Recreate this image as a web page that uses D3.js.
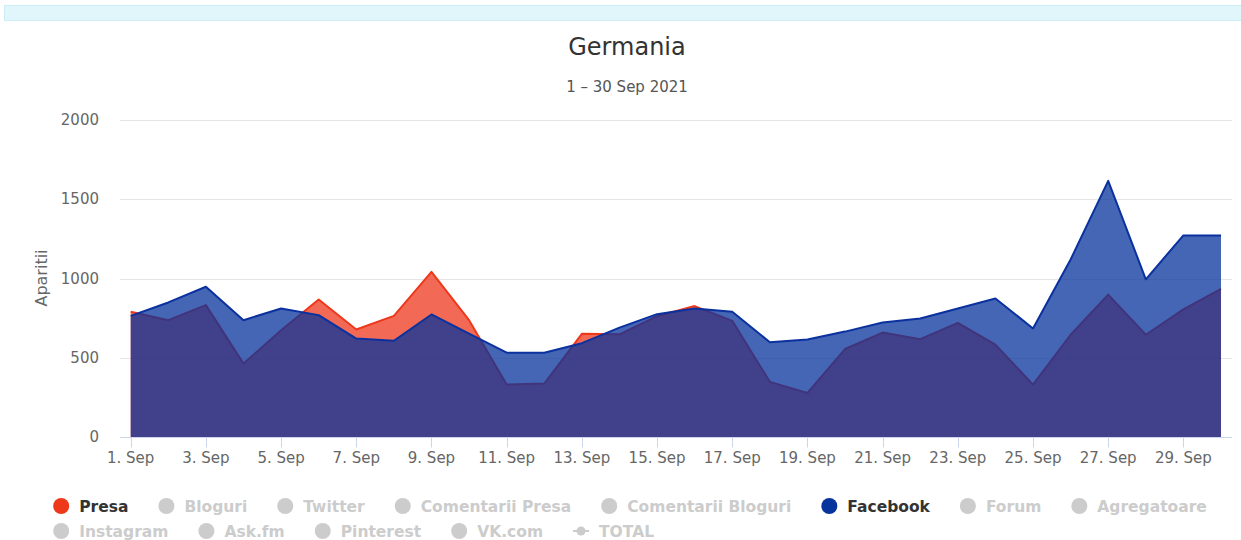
<!DOCTYPE html>
<html>
<head>
<meta charset="utf-8">
<script src="https://cdn.jsdelivr.net/npm/d3@7/dist/d3.min.js"></script>
<style>
  html, body { margin: 0; padding: 0; background: #fff; }
  svg { display: block; }
  text { font-family: "DejaVu Sans", Verdana, sans-serif; }
</style>
</head>
<body>
<svg id="chart" width="1241" height="540"></svg>
<script>
// ---- data ----
const titleText = "Germania";
const subtitleText = "1 \u2013 30 Sep 2021";
const yAxisTitle = "Aparitii";
const days = d3.range(1, 31);
const presa = [790, 737, 832, 463, 674, 868, 678, 764, 1042, 737,
               331, 337, 651, 648, 762, 826, 733, 348, 278, 555,
               659, 617, 720, 583, 330, 645, 898, 645, 805, 935];
const facebook = [764, 849, 948, 737, 811, 769, 621, 607, 773, 652,
                  532, 532, 592, 690, 775, 811, 790, 598, 615, 665,
                  723, 748, 811, 874, 685, 1120, 1616, 995, 1272, 1272];
const yTicks = [0, 500, 1000, 1500, 2000];
const xTickDays = d3.range(1, 31, 2);
const legendItems = [
  { name: "Presa", active: true, color: "#ee381c", symbol: "circle" },
  { name: "Bloguri", active: false, symbol: "circle" },
  { name: "Twitter", active: false, symbol: "circle" },
  { name: "Comentarii Presa", active: false, symbol: "circle" },
  { name: "Comentarii Bloguri", active: false, symbol: "circle" },
  { name: "Facebook", active: true, color: "#06339c", symbol: "circle" },
  { name: "Forum", active: false, symbol: "circle" },
  { name: "Agregatoare", active: false, symbol: "circle" },
  { name: "Instagram", active: false, symbol: "circle" },
  { name: "Ask.fm", active: false, symbol: "circle" },
  { name: "Pinterest", active: false, symbol: "circle" },
  { name: "VK.com", active: false, symbol: "circle" },
  { name: "TOTAL", active: false, symbol: "line" }
];

// ---- layout ----
const svg = d3.select("#chart");
const W = 1241;
const plot = { left: 120, right: 1232, top: 120, bottom: 437 };
const centerX = 627;

// header band
svg.append("rect").attr("x", 4.5).attr("y", 5.5).attr("width", W - 4).attr("height", 15)
  .attr("fill", "#e0f6fb").attr("stroke", "#cdeef7").attr("stroke-width", 1);

// title
svg.append("text").attr("x", centerX).attr("y", 55).attr("text-anchor", "middle")
  .attr("font-size", 24).attr("fill", "#333").text(titleText);
svg.append("text").attr("x", centerX).attr("y", 92).attr("text-anchor", "middle")
  .attr("font-size", 15).attr("fill", "#555").text(subtitleText);

// scales
const x = d3.scaleLinear().domain([1, 30]).range([130.7, 1221]);
const y = d3.scaleLinear().domain([0, 2000]).range([plot.bottom, plot.top]);

// gridlines
svg.append("g").selectAll("line").data(yTicks.filter(d => d > 0)).join("line")
  .attr("x1", plot.left).attr("x2", plot.right)
  .attr("y1", d => Math.round(y(d)) + 0.5).attr("y2", d => Math.round(y(d)) + 0.5)
  .attr("stroke", "#e6e6e6").attr("stroke-width", 1);

// y axis labels
svg.append("g").selectAll("text").data(yTicks).join("text")
  .attr("x", 99).attr("y", d => y(d) + 5)
  .attr("text-anchor", "end").attr("font-size", 15).attr("fill", "#666")
  .text(d => d);

// y axis title
svg.append("text").attr("transform", "translate(47,278) rotate(-90)")
  .attr("text-anchor", "middle").attr("font-size", 16).attr("fill", "#666").text(yAxisTitle);

// areas
const area = vals => d3.area().x((d, i) => x(days[i])).y0(y(0)).y1(d => y(d))(vals);
const line = vals => d3.line().x((d, i) => x(days[i])).y(d => y(d))(vals);

svg.append("path").attr("d", area(presa)).attr("fill", "#ee381c").attr("fill-opacity", 0.75);
svg.append("path").attr("d", line(presa)).attr("fill", "none").attr("stroke", "#ee381c")
  .attr("stroke-width", 2).attr("stroke-linejoin", "round");
svg.append("path").attr("d", area(facebook)).attr("fill", "#06339c").attr("fill-opacity", 0.75);
svg.append("path").attr("d", line(facebook)).attr("fill", "none").attr("stroke", "#0a319e")
  .attr("stroke-width", 2).attr("stroke-linejoin", "round");

// x axis
const axisY = plot.bottom + 0.5;
svg.append("line").attr("x1", plot.left).attr("x2", plot.right).attr("y1", axisY).attr("y2", axisY)
  .attr("stroke", "#ccd6eb");
svg.append("g").selectAll("line").data(xTickDays).join("line")
  .attr("x1", d => Math.round(x(d)) + 0.5).attr("x2", d => Math.round(x(d)) + 0.5)
  .attr("y1", axisY).attr("y2", axisY + 10).attr("stroke", "#ccd6eb");
svg.append("g").selectAll("text").data(xTickDays).join("text")
  .attr("x", d => x(d)).attr("y", 463).attr("text-anchor", "middle")
  .attr("font-size", 15).attr("fill", "#666").text(d => d + ". Sep");

// legend
const lg = svg.append("g");
const itemDistance = 30, textOffset = 26, maxRow = 1170;
const measured = legendItems.map(it => {
  const t = lg.append("text").attr("font-size", 15.5).attr("font-weight", "bold")
    .attr("fill", it.active ? "#333" : "#ccc").text(it.name);
  return { it, t, w: t.node().getComputedTextLength() };
});
const rows = [[]];
let cur = 0;
measured.forEach(m => {
  const iw = textOffset + m.w;
  if (cur > 0 && cur + itemDistance + iw > maxRow) { rows.push([]); cur = 0; }
  if (cur > 0) cur += itemDistance;
  m.rel = cur;
  rows[rows.length - 1].push(m);
  cur += iw;
});
const rowWidths = rows.map(r => { const l = r[r.length - 1]; return l.rel + textOffset + l.w; });
const legendLeft = centerX + 3 - d3.max(rowWidths) / 2;
rows.forEach((r, ri) => {
  const cy = 506 + ri * 25;
  r.forEach(m => {
    const left = legendLeft + m.rel;
    const col = m.it.active ? m.it.color : "#ccc";
    if (m.it.symbol === "circle") {
      lg.append("circle").attr("cx", left + 8).attr("cy", cy).attr("r", 8).attr("fill", col);
    } else {
      lg.append("line").attr("x1", left).attr("x2", left + 16).attr("y1", cy).attr("y2", cy)
        .attr("stroke", col).attr("stroke-width", 2);
      lg.append("circle").attr("cx", left + 8).attr("cy", cy).attr("r", 4.5).attr("fill", col);
    }
    m.t.attr("x", left + textOffset).attr("y", cy + 5.5);
  });
});
</script>
</body>
</html>
